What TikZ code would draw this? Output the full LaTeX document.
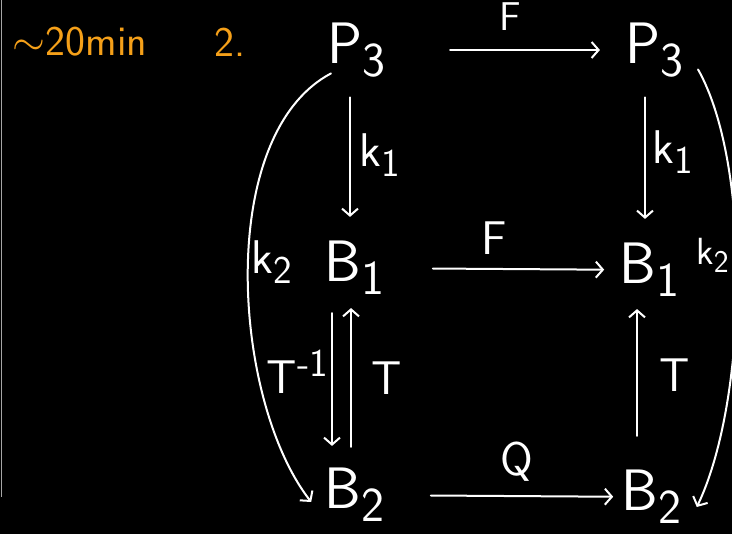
\documentclass[tikz,border=0pt]{standalone}
\usepackage{fontspec}
\usepackage{xcolor}
\usetikzlibrary{arrows.meta}
\definecolor{penorange}{RGB}{245,160,25}

\begin{document}
\begin{tikzpicture}[x=1pt,y=-1pt,
        >={Straight Barb[length=7pt,width=16pt]},
        obj/.style={inner sep=0pt,white,font=\Huge\sffamily,scale=2.35},
        lab/.style={inner sep=0pt,white,font=\Huge\sffamily,scale=1.9},
        note/.style={inner sep=0pt,penorange,font=\Huge\sffamily,scale=1.7},
        pen/.style={white,line width=2pt,line cap=round}]
        \useasboundingbox (0,0) rectangle (732,534);
        \fill[black] (0,0) rectangle (732,534);
        \draw[gray!70,line width=1pt] (1.5,0) -- (1.5,497);
        \node[note] (time) at (80,42) {\(\sim\)20min};
        \node[note] (num) at (230,42) {2.};
        % objects
        \node[obj] (Pl) at (357,50) {P\textsubscript{3}};
        \node[obj] (Pr) at (655,50) {P\textsubscript{3}};
        \node[obj] (Bl1) at (355,268) {B\textsubscript{1}};
        \node[obj] (Br1) at (650,270) {B\textsubscript{1}};
        \node[obj] (Bl2) at (355,495) {B\textsubscript{2}};
        \node[obj] (Br2) at (652,497) {B\textsubscript{2}};
        % horizontal maps
        \draw[pen,->,shorten <=63pt,shorten >=25pt] (Pl) -- (Pr);
        \draw[pen,->,shorten <=47pt,shorten >=15pt] (Bl1) -- (Br1);
        \draw[pen,->,shorten <=45pt,shorten >=8pt] (Bl2) -- (Br2);
        \node[lab,scale=0.85] (Ftop) at (510,17) {F};
        \node[lab] (Fmid) at (494,238) {F};
        \node[lab] (Q) at (517,462) {Q};
        % vertical maps
        \draw[pen,->,shorten <=20pt,shorten >=24pt] ([xshift=-7pt]Pl.south) -- ([xshift=-5pt]Bl1.north);
        \draw[pen,->,shorten <=20pt,shorten >=24pt] ([xshift=-10pt]Pr.south) -- ([xshift=-5pt]Br1.north);
        \draw[pen,->,shorten <=18pt,shorten >=22pt] ([xshift=-23pt]Bl1.south) -- ([xshift=-23pt]Bl2.north);
        \draw[pen,->,shorten <=21pt,shorten >=13pt] ([xshift=-4pt]Bl2.north) -- ([xshift=-4pt]Bl1.south);
        \draw[pen,->,shorten <=34pt,shorten >=12pt] ([xshift=-15pt]Br2.north) -- ([xshift=-13pt]Br1.south);
        \node[lab] (k1l) at (380,155) {k\textsubscript{1}};
        \node[lab] (k1r) at (673,152) {k\textsubscript{1}};
        \node[lab] (Tinv) at (298,372) {T\textsuperscript{-1}};
        \node[lab] (Tl) at (387,378) {T};
        \node[lab] (Tr) at (675,375) {T};
        % outer curves
        \draw[pen,->] ([shift={(4,-4)}]Pl.south west) .. controls (215,135) and (232,400) .. ([shift={(-13,7)}]Bl2.west);
        \draw[pen,->] ([shift={(13,-8)}]Pr.south east) .. controls (752,165) and (748,400) .. ([shift={(14,10)}]Br2.east);
        \node[lab] (k2l) at (272,262) {k\textsubscript{2}};
        \node[lab,scale=0.8] (k2r) at (713,255) {k\textsubscript{2}};
\end{tikzpicture}
\end{document}
